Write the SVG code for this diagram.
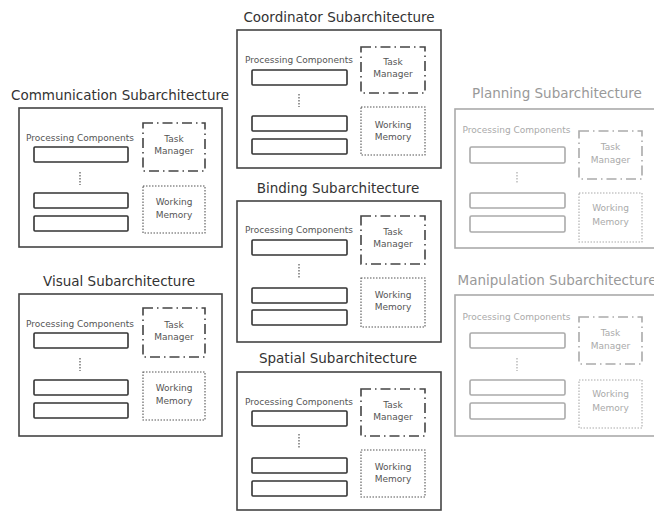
<svg xmlns="http://www.w3.org/2000/svg" width="654" height="512" viewBox="0 0 654 512">
<style>
text{font-family:"DejaVu Sans","Liberation Sans",sans-serif}
.bg{fill:#fff}
.title{font-size:13.5px;fill:#333;text-anchor:middle}
.small{font-size:9px;fill:#555;text-anchor:middle}
.outer{fill:none;stroke:#444;stroke-width:1.6}
.pc{fill:#fff;stroke:#333;stroke-width:1.6}
.tm{fill:none;stroke:#444;stroke-width:1.6;stroke-dasharray:10 4 1.5 4}
.wm{fill:none;stroke:#555;stroke-width:1.1;stroke-dasharray:1.5 1.5}
.dots{stroke:#555;stroke-width:1.2;stroke-dasharray:1.5 1.5}
.faded .title{fill:#999}
.faded .small{fill:#aaa}
.faded .outer{stroke:#aaa}
.faded .pc{stroke:#aaa}
.faded .tm{stroke:#aaa}
.faded .wm{stroke:#aaa}
.faded .dots{stroke:#aaa}
</style>
<rect class="bg" x="0" y="0" width="654" height="512"/>

<g id="coordinator">
  <text class="title" x="339" y="22">Coordinator Subarchitecture</text>
  <g transform="translate(237,30)">
    <rect class="outer" x="0" y="0" width="204" height="138"/>
    <text class="small" x="62" y="33">Processing Components</text>
    <rect class="pc" x="15" y="40" width="95" height="15" rx="1"/>
    <line class="dots" x1="62" y1="64" x2="62" y2="77"/>
    <rect class="pc" x="15" y="86" width="95" height="15" rx="1"/>
    <rect class="pc" x="15" y="109" width="95" height="15" rx="1"/>
    <rect class="tm" x="124" y="17" width="64" height="46"/>
    <text class="small" x="156" y="35">Task</text>
    <text class="small" x="156" y="47">Manager</text>
    <rect class="wm" x="124" y="77" width="64" height="48"/>
    <text class="small" x="156" y="98">Working</text>
    <text class="small" x="156" y="110">Memory</text>
  </g>
</g>

<g id="communication">
  <text class="title" x="120" y="100">Communication Subarchitecture</text>
  <g transform="translate(19,108)">
    <rect class="outer" x="0" y="0" width="203" height="139"/>
    <text class="small" x="61" y="33">Processing Components</text>
    <rect class="pc" x="15" y="39" width="94" height="15" rx="1"/>
    <line class="dots" x1="61" y1="64" x2="61" y2="77"/>
    <rect class="pc" x="15" y="85" width="94" height="15" rx="1"/>
    <rect class="pc" x="15" y="108" width="94" height="15" rx="1"/>
    <rect class="tm" x="124" y="15" width="62" height="48"/>
    <text class="small" x="155" y="34">Task</text>
    <text class="small" x="155" y="46">Manager</text>
    <rect class="wm" x="124" y="78" width="62" height="47"/>
    <text class="small" x="155" y="97">Working</text>
    <text class="small" x="155" y="110">Memory</text>
  </g>
</g>

<g id="binding">
  <text class="title" x="338" y="193">Binding Subarchitecture</text>
  <g transform="translate(237,201)">
    <rect class="outer" x="0" y="0" width="204" height="141"/>
    <text class="small" x="62" y="32">Processing Components</text>
    <rect class="pc" x="15" y="39" width="95" height="15" rx="1"/>
    <line class="dots" x1="62" y1="63" x2="62" y2="77"/>
    <rect class="pc" x="15" y="87" width="95" height="15" rx="1"/>
    <rect class="pc" x="15" y="109" width="95" height="15" rx="1"/>
    <rect class="tm" x="124" y="15" width="64" height="48"/>
    <text class="small" x="156" y="34">Task</text>
    <text class="small" x="156" y="46">Manager</text>
    <rect class="wm" x="124" y="77" width="64" height="49"/>
    <text class="small" x="156" y="97">Working</text>
    <text class="small" x="156" y="109">Memory</text>
  </g>
</g>

<g id="visual">
  <text class="title" x="119" y="286">Visual Subarchitecture</text>
  <g transform="translate(19,294)">
    <rect class="outer" x="0" y="0" width="203" height="142"/>
    <text class="small" x="61" y="33">Processing Components</text>
    <rect class="pc" x="15" y="39" width="94" height="15" rx="1"/>
    <line class="dots" x1="61" y1="64" x2="61" y2="77"/>
    <rect class="pc" x="15" y="86" width="94" height="15" rx="1"/>
    <rect class="pc" x="15" y="109" width="94" height="15" rx="1"/>
    <rect class="tm" x="124" y="14" width="62" height="49"/>
    <text class="small" x="155" y="34">Task</text>
    <text class="small" x="155" y="46">Manager</text>
    <rect class="wm" x="124" y="78" width="62" height="48"/>
    <text class="small" x="155" y="97">Working</text>
    <text class="small" x="155" y="110">Memory</text>
  </g>
</g>

<g id="spatial">
  <text class="title" x="338" y="363">Spatial Subarchitecture</text>
  <g transform="translate(237,372)">
    <rect class="outer" x="0" y="0" width="204" height="138"/>
    <text class="small" x="62" y="33">Processing Components</text>
    <rect class="pc" x="15" y="39" width="95" height="15" rx="1"/>
    <line class="dots" x1="62" y1="62" x2="62" y2="76"/>
    <rect class="pc" x="15" y="86" width="95" height="15" rx="1"/>
    <rect class="pc" x="15" y="109" width="95" height="15" rx="1"/>
    <rect class="tm" x="124" y="17" width="64" height="47"/>
    <text class="small" x="156" y="36">Task</text>
    <text class="small" x="156" y="48">Manager</text>
    <rect class="wm" x="124" y="78" width="64" height="47"/>
    <text class="small" x="156" y="98">Working</text>
    <text class="small" x="156" y="110">Memory</text>
  </g>
</g>

<g id="planning" class="faded">
  <text class="title" x="557" y="98">Planning Subarchitecture</text>
  <g transform="translate(455,109)">
    <rect class="outer" x="0" y="0" width="204" height="139"/>
    <text class="small" x="61.5" y="24">Processing Components</text>
    <rect class="pc" x="15" y="38" width="95" height="16" rx="1.5"/>
    <line class="dots" x1="62" y1="63" x2="62" y2="75"/>
    <rect class="pc" x="15" y="84" width="95" height="15" rx="1.5"/>
    <rect class="pc" x="15" y="107" width="95" height="16" rx="1.5"/>
    <rect class="tm" x="124" y="22" width="63" height="48"/>
    <text class="small" x="155.5" y="41">Task</text>
    <text class="small" x="155.5" y="54">Manager</text>
    <rect class="wm" x="124" y="84" width="63" height="49"/>
    <text class="small" x="155.5" y="102">Working</text>
    <text class="small" x="155.5" y="116">Memory</text>
  </g>
</g>

<g id="manipulation" class="faded">
  <text class="title" x="557" y="285">Manipulation Subarchitecture</text>
  <g transform="translate(455,295)">
    <rect class="outer" x="0" y="0" width="204" height="141"/>
    <text class="small" x="61.5" y="25">Processing Components</text>
    <rect class="pc" x="15" y="38" width="95" height="15" rx="1.5"/>
    <line class="dots" x1="62" y1="63" x2="62" y2="76"/>
    <rect class="pc" x="15" y="85" width="95" height="15" rx="1.5"/>
    <rect class="pc" x="15" y="108" width="95" height="16" rx="1.5"/>
    <rect class="tm" x="124" y="22" width="63" height="47"/>
    <text class="small" x="155.5" y="41">Task</text>
    <text class="small" x="155.5" y="54">Manager</text>
    <rect class="wm" x="124" y="85" width="63" height="48"/>
    <text class="small" x="155.5" y="102">Working</text>
    <text class="small" x="155.5" y="116">Memory</text>
  </g>
</g>

<g id="connectors"></g>
</svg>
